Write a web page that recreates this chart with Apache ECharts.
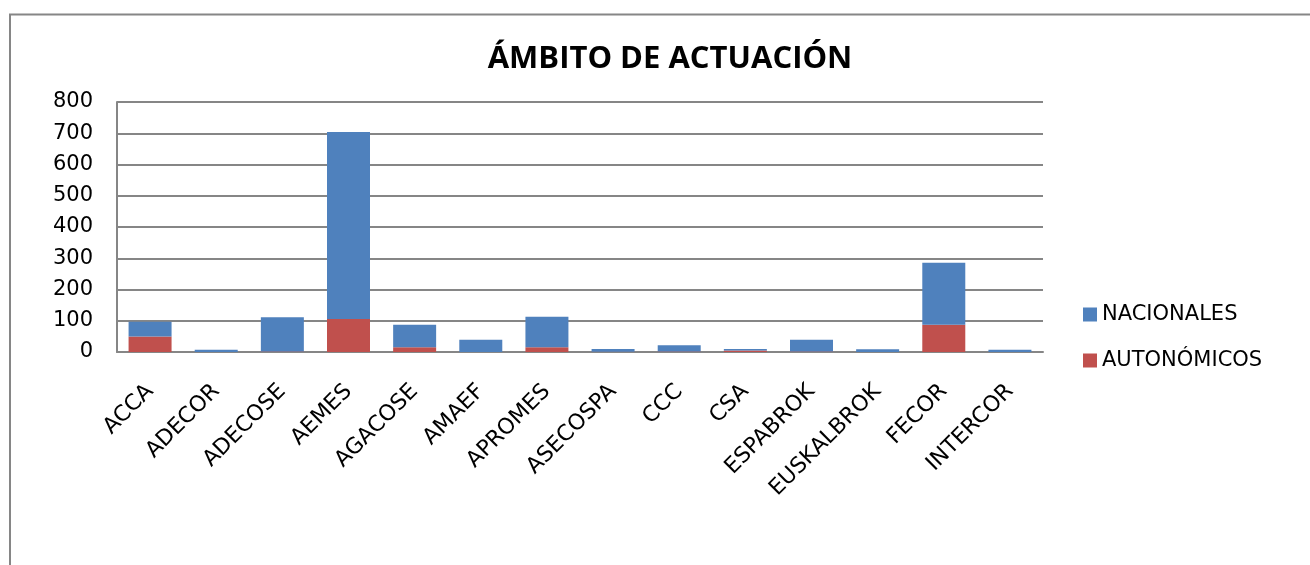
<!DOCTYPE html>
<html><head><meta charset="utf-8">
<script src="https://cdn.jsdelivr.net/npm/echarts@6/dist/echarts.min.js"></script>
<style>html,body{margin:0;padding:0;background:#fff}#c{width:1310px;height:565px}</style>
</head><body><div id="c"></div>
<script>
const categories = ['ACCA','ADECOR','ADECOSE','AEMES','AGACOSE','AMAEF','APROMES','ASECOSPA','CCC','CSA','ESPABROK','EUSKALBROK','FECOR','INTERCOR'];
const autonomicos = [50, 0, 2, 106, 15, 0, 15, 1, 2, 5, 2, 0, 87, 0];
const nacionales = [47, 7, 109, 598, 72, 39, 98, 9, 20, 5, 37, 9, 199, 7];
const yTicks = [0, 100, 200, 300, 400, 500, 600, 700, 800];

const font = '"DejaVu Sans", "Open Sans", sans-serif';
const titleFont = '"Open Sans", "Noto Sans", sans-serif';
const chart = echarts.init(document.getElementById('c'), null, {renderer: 'canvas'});
chart.setOption({
  animation: false,
  textStyle: {fontFamily: font},
  graphic: [{
    type: 'polyline', silent: true,
    shape: {points: [[10, 566], [10, 14.5], [1311, 14.5]]},
    style: {stroke: '#868686', lineWidth: 2, fill: null}
  }],
  title: {
    text: 'ÁMBITO DE ACTUACIÓN', left: 665, top: 39, textAlign: 'center',
    textStyle: {fontFamily: titleFont, fontSize: 31, fontWeight: 'bold', color: '#000'}
  },
  legend: {
    orient: 'vertical', left: 1078, top: 299, itemGap: 25,
    itemWidth: 14, itemHeight: 14, icon: 'rect',
    textStyle: {fontFamily: font, fontSize: 21, color: '#000'},
    data: ['NACIONALES', 'AUTONÓMICOS']
  },
  grid: {left: 117, right: 267, top: 102, bottom: 213, containLabel: false},
  xAxis: {
    type: 'category', data: categories,
    axisLine: {lineStyle: {color: '#868686', width: 2}},
    axisTick: {show: false},
    axisLabel: {rotate: 45, fontSize: 22, color: '#000', fontFamily: font, margin: 36,
                interval: 0}
  },
  yAxis: {
    type: 'value', min: yTicks[0], max: yTicks[yTicks.length - 1], interval: 100,
    axisLine: {show: true, lineStyle: {color: '#868686', width: 2}},
    axisTick: {show: false},
    splitLine: {lineStyle: {color: '#868686', width: 2}},
    axisLabel: {fontSize: 21, color: '#000', fontFamily: font, margin: 24}
  },
  series: [
    {name: 'AUTONÓMICOS', type: 'bar', stack: 't', data: autonomicos, barWidth: '65%',
     itemStyle: {color: '#C0504D'}},
    {name: 'NACIONALES', type: 'bar', stack: 't', data: nacionales, barWidth: '65%',
     itemStyle: {color: '#4F81BD'}}
  ]
});
</script></body></html>
